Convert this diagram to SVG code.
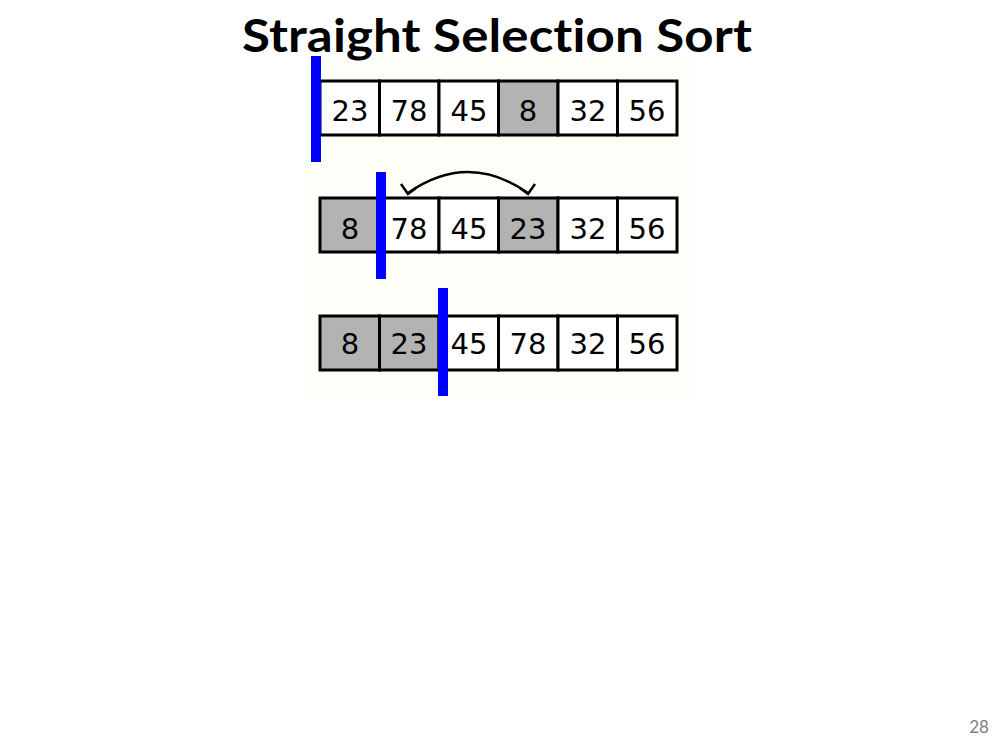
<svg xmlns="http://www.w3.org/2000/svg" width="1000" height="750" viewBox="0 0 1000 750">
<defs>
<style>
.cell{fill:#ffffff;stroke:#000;stroke-width:3}
.sel{fill:#b3b3b3;stroke:#000;stroke-width:3}
.num{font-family:"DejaVu Sans",Verdana,sans-serif;font-size:29px;fill:#000;text-anchor:middle}
.bar{fill:#0000ff}
.ln{fill:none;stroke:#000;stroke-width:2.5}
</style>
</defs>
<rect width="1000" height="750" fill="#ffffff"/>
<rect x="305" y="55" width="385" height="345" fill="#fffffa"/>
<text x="497" y="52" font-family="Lato,'Liberation Sans',Arial,sans-serif" font-weight="bold" font-size="45" text-anchor="middle" textLength="510" lengthAdjust="spacingAndGlyphs" letter-spacing="0.1" style="font-variant-ligatures:none;font-feature-settings:'liga' 0, 'clig' 0, 'dlig' 0">Straight Selection Sort</text>
<g id="row1">
<rect class="cell" x="320" y="81" width="59.5" height="54"/>
<rect class="cell" x="379.5" y="81" width="59.5" height="54"/>
<rect class="cell" x="439" y="81" width="59.5" height="54"/>
<rect class="sel" x="498.5" y="81" width="59.5" height="54"/>
<rect class="cell" x="558" y="81" width="59.5" height="54"/>
<rect class="cell" x="617.5" y="81" width="59.5" height="54"/>
<text class="num" x="350" y="121">23</text>
<text class="num" x="409" y="121">78</text>
<text class="num" x="469" y="121">45</text>
<text class="num" x="528" y="121">8</text>
<text class="num" x="588" y="121">32</text>
<text class="num" x="647" y="121">56</text>
<rect class="bar" x="311" y="56" width="10" height="106"/>
</g>
<g id="row2">
<rect class="sel" x="320" y="198" width="59.5" height="54"/>
<rect class="cell" x="379.5" y="198" width="59.5" height="54"/>
<rect class="cell" x="439" y="198" width="59.5" height="54"/>
<rect class="sel" x="498.5" y="198" width="59.5" height="54"/>
<rect class="cell" x="558" y="198" width="59.5" height="54"/>
<rect class="cell" x="617.5" y="198" width="59.5" height="54"/>
<text class="num" x="350" y="239">8</text>
<text class="num" x="409" y="239">78</text>
<text class="num" x="469" y="239">45</text>
<text class="num" x="528" y="239">23</text>
<text class="num" x="588" y="239">32</text>
<text class="num" x="647" y="239">56</text>
<rect class="bar" x="376" y="172" width="10" height="107"/>
</g>
<g id="row3">
<rect class="sel" x="320" y="316" width="59.5" height="54"/>
<rect class="sel" x="379.5" y="316" width="59.5" height="54"/>
<rect class="cell" x="439" y="316" width="59.5" height="54"/>
<rect class="cell" x="498.5" y="316" width="59.5" height="54"/>
<rect class="cell" x="558" y="316" width="59.5" height="54"/>
<rect class="cell" x="617.5" y="316" width="59.5" height="54"/>
<text class="num" x="350" y="354">8</text>
<text class="num" x="409" y="354">23</text>
<text class="num" x="469" y="354">45</text>
<text class="num" x="528" y="354">78</text>
<text class="num" x="588" y="354">32</text>
<text class="num" x="647" y="354">56</text>
<rect class="bar" x="438" y="288" width="10" height="108"/>
</g>
<g id="connectors">
<path class="ln" d="M408,193 Q468,151 528,193"/>
<path class="ln" d="M401,184 L408,194 L416,188"/>
<path class="ln" d="M520,188 L528,194 L535,184"/>
</g>
<text x="979" y="733" font-family="Lato,'Liberation Sans',Arial,sans-serif" font-size="17" fill="#7f7f7f" text-anchor="middle">28</text>
</svg>
